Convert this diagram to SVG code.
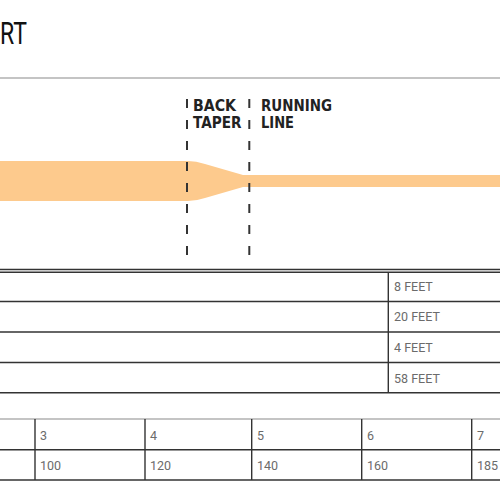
<svg xmlns="http://www.w3.org/2000/svg" width="500" height="500" viewBox="0 0 500 500">
<style>
.title{font-family:Roboto,"Liberation Sans",sans-serif;font-weight:400;font-size:31px;fill:#111}
.lbl{font-family:"DejaVu Sans Condensed","DejaVu Sans",sans-serif;font-weight:bold;font-size:15.5px;fill:#222}
.cell{font-family:Roboto,"Liberation Sans",sans-serif;font-size:12.5px;fill:#6b6b6b}
.grid{stroke:#333;stroke-width:1.4;fill:none}
.light{stroke:#8a8a8a;stroke-width:1.2;fill:none}
.dash{stroke:#333;stroke-width:2;stroke-dasharray:9 12;fill:none}
</style>
<rect width="500" height="500" fill="#fff"/>
<g id="title">
<text class="title" x="0" y="44" textLength="27" lengthAdjust="spacingAndGlyphs">RT</text>
</g>
<line class="light" x1="0" y1="78" x2="500" y2="78"/>
<g id="line-shape">
<path d="M0,161 H188 Q196,161 205,164 L243,175 H500 V187 H243 L205,198 Q196,201 188,201 H0 Z" fill="#fdca8d"/>
</g>
<g id="connectors">
<line class="dash" x1="187" y1="99" x2="187" y2="256"/>
<line class="dash" x1="249.3" y1="99" x2="249.3" y2="256"/>
</g>
<g id="back-taper">
<text class="lbl" x="193" y="111" textLength="43" lengthAdjust="spacingAndGlyphs">BACK</text>
<text class="lbl" x="193" y="127.5" textLength="48.5" lengthAdjust="spacingAndGlyphs">TAPER</text>
</g>
<g id="running-line">
<text class="lbl" x="261" y="111" textLength="71" lengthAdjust="spacingAndGlyphs">RUNNING</text>
<text class="lbl" x="261" y="127.5" textLength="33" lengthAdjust="spacingAndGlyphs">LINE</text>
</g>
<g id="length-table">
<line class="grid" x1="0" y1="269.5" x2="500" y2="269.5"/>
<line class="grid" x1="0" y1="272.2" x2="500" y2="272.2" stroke-width="1"/>
<line class="grid" x1="0" y1="301.5" x2="500" y2="301.5"/>
<line class="grid" x1="0" y1="332" x2="500" y2="332"/>
<line class="grid" x1="0" y1="362.5" x2="500" y2="362.5"/>
<line class="grid" x1="0" y1="392.7" x2="500" y2="392.7"/>
<line class="grid" x1="388.3" y1="272" x2="388.3" y2="393"/>
<text class="cell" x="394" y="291">8 FEET</text>
<text class="cell" x="394" y="321.3">20 FEET</text>
<text class="cell" x="394" y="352">4 FEET</text>
<text class="cell" x="394" y="382.5">58 FEET</text>
</g>
<g id="weight-table">
<line class="light" x1="0" y1="419" x2="500" y2="419"/>
<line class="grid" x1="0" y1="449.8" x2="500" y2="449.8"/>
<line class="grid" x1="0" y1="480" x2="500" y2="480"/>
<line class="grid" x1="35" y1="419" x2="35" y2="480"/>
<line class="grid" x1="145" y1="419" x2="145" y2="480"/>
<line class="grid" x1="251.7" y1="419" x2="251.7" y2="480"/>
<line class="grid" x1="361.7" y1="419" x2="361.7" y2="480"/>
<line class="grid" x1="471.7" y1="419" x2="471.7" y2="480"/>
<text class="cell" x="40" y="439.5">3</text>
<text class="cell" x="150" y="439.5">4</text>
<text class="cell" x="257" y="439.5">5</text>
<text class="cell" x="367" y="439.5">6</text>
<text class="cell" x="477" y="439.5">7</text>
<text class="cell" x="40" y="469.5">100</text>
<text class="cell" x="150" y="469.5">120</text>
<text class="cell" x="257" y="469.5">140</text>
<text class="cell" x="367" y="469.5">160</text>
<text class="cell" x="477" y="469.5">185</text>
</g>
</svg>
